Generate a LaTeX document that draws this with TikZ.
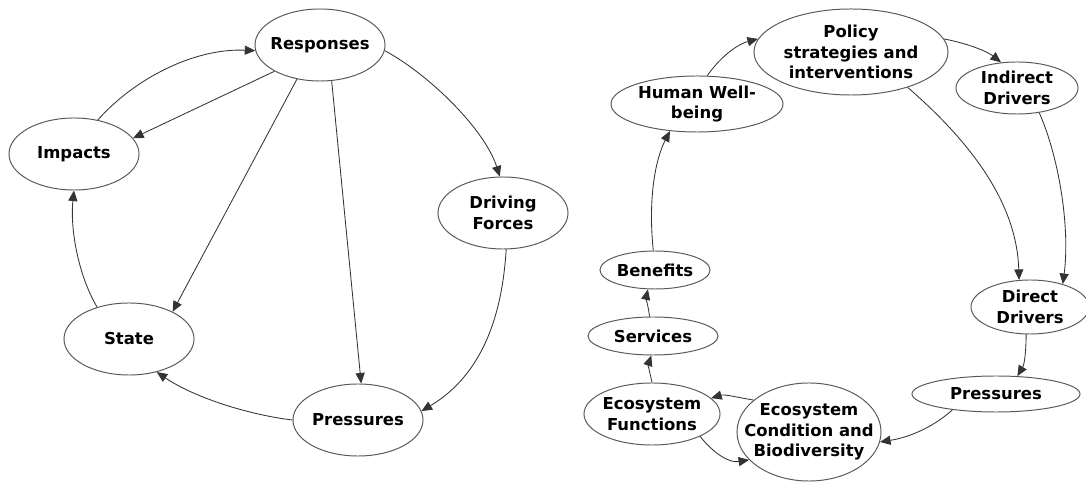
\documentclass[tikz,border=0pt]{standalone}
\usepackage{fontspec}
\setmainfont{DejaVu Sans}
\usetikzlibrary{shapes.geometric,arrows.meta}

\begin{document}
\begin{tikzpicture}[x=0.025cm, y=-0.025cm,
    blob/.style={ellipse, draw=black!65, line width=0.7pt, inner sep=-15pt, align=center,
      minimum width=3.25cm, minimum height=1.8cm,
      font=\fontsize{11.7}{14.6}\selectfont\bfseries},
    link/.style={-{Triangle[length=7.5pt,width=6.5pt]}, draw=black!80, line width=0.6pt}]
  \useasboundingbox (0,0) rectangle (1086,484);

  % DPSIR cycle
  \node[blob] (resp) at (320,45) {Responses};
  \node[blob] (imp) at (74,154) {Impacts};
  \node[blob] (drive) at (503,213) {Driving\\Forces};
  \node[blob] (state) at (129,339) {State};
  \node[blob] (pressL) at (358,420) {Pressures};

  \draw[link] (imp.55) .. controls (135,78) and (195,48) .. (resp.185);
  \draw[link] (resp.210) -- (imp.15);
  \draw[link] (resp.236) -- (state.32);
  \draw[link] (resp.288) -- (pressL.85);
  \draw[link] (resp.355) .. controls (430,75) and (485,130) .. (drive.95);
  \draw[link] (drive.275) .. controls (503,300) and (490,370) .. (pressL.8);
  \draw[link] (pressL.180) .. controls (250,415) and (195,398) .. (state.310);
  \draw[link] (state.135) .. controls (78,275) and (70,228) .. (imp.270);

  % ecosystem cycle
  \node[blob, minimum width=4.85cm, minimum height=2.15cm] (policy) at (851,52) {Policy\\strategies and\\interventions};
  \node[blob, minimum width=3.05cm, minimum height=1.3cm] (indir) at (1017,88) {Indirect\\Drivers};
  \node[blob, minimum width=4.3cm, minimum height=1.4cm] (hwb) at (697,104) {Human Well-\\being};
  \node[blob, minimum width=2.75cm, minimum height=0.95cm] (benef) at (655,270) {Benefits};
  \node[blob, minimum width=3.25cm, minimum height=0.95cm] (serv) at (653,336) {Services};
  \node[blob, minimum width=3.4cm, minimum height=1.55cm] (efunc) at (652,414) {Ecosystem\\Functions};
  \node[blob, minimum width=3.6cm, minimum height=2.45cm] (econd) at (809,432) {Ecosystem\\Condition and\\Biodiversity};
  \node[blob, minimum width=4.2cm, minimum height=0.9cm] (pressR) at (996,394) {Pressures};
  \node[blob, minimum width=2.95cm, minimum height=1.35cm] (direct) at (1030,307) {Direct\\Drivers};

  \draw[link] (hwb.70) .. controls (718,60) and (735,45) .. (policy.172);
  \draw[link] (policy.8) .. controls (970,44) and (988,52) .. (indir.122);
  \draw[link] (policy.328) .. controls (980,150) and (1017,210) .. (direct.112);
  \draw[link] (indir.312) .. controls (1060,160) and (1070,230) .. (direct.35);
  \draw[link] (direct.262) .. controls (1026,355) and (1024,365) .. (pressR.40);
  \draw[link] (pressR.200) .. controls (930,430) and (905,438) .. (econd.352);
  \draw[link] (econd.150) .. controls (740,398) and (725,394) .. (efunc.15);
  \draw[link] (efunc.335) .. controls (715,455) and (730,463) .. (econd.205);
  \draw[link] (efunc.90) .. controls (650,373) and (648,365) .. (serv.265);
  \draw[link] (serv.100) .. controls (648,305) and (646,298) .. (benef.250);
  \draw[link] (benef.95) .. controls (648,200) and (655,160) .. (hwb.225);
\end{tikzpicture}
\end{document}
